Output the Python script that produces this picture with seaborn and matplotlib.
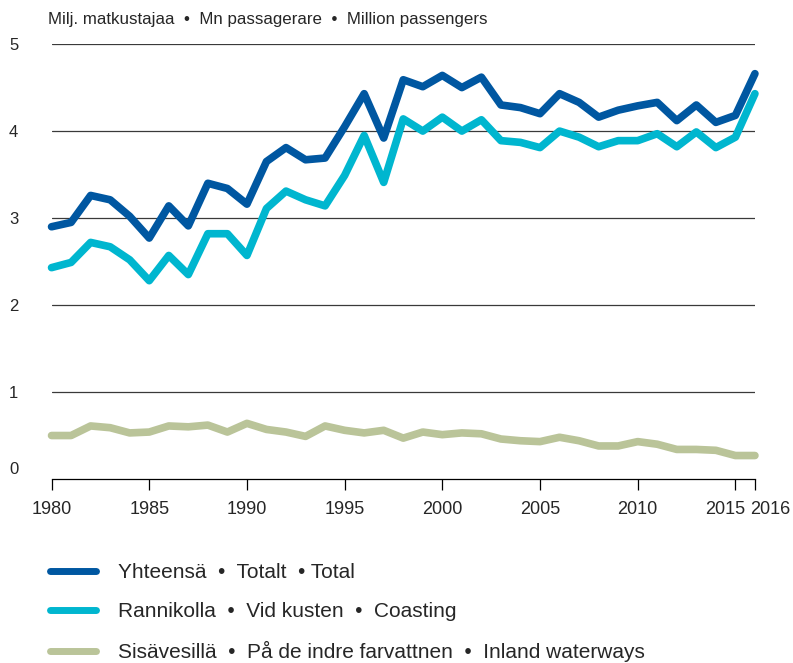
import matplotlib
matplotlib.use("Agg")
import matplotlib.pyplot as plt
import matplotlib.transforms as mtransforms
from matplotlib.lines import Line2D
import pandas as pd
import seaborn as sns

# Data (million passengers)
years = list(range(1980, 2017))
total = [2.90, 2.95, 3.26, 3.21, 3.02, 2.77, 3.14, 2.91, 3.40, 3.34,
         3.16, 3.65, 3.81, 3.67, 3.69, 4.05, 4.43, 3.92, 4.59, 4.51,
         4.64, 4.50, 4.62, 4.30, 4.27, 4.20, 4.43, 4.33, 4.16, 4.24,
         4.29, 4.33, 4.12, 4.30, 4.10, 4.18, 4.66]
coasting = [2.43, 2.49, 2.72, 2.67, 2.52, 2.28, 2.57, 2.35, 2.82, 2.82,
            2.57, 3.11, 3.31, 3.21, 3.14, 3.49, 3.95, 3.41, 4.14, 4.00,
            4.16, 4.00, 4.13, 3.89, 3.87, 3.81, 4.00, 3.93, 3.82, 3.89,
            3.89, 3.97, 3.82, 3.99, 3.81, 3.93, 4.43]
inland = [0.50, 0.50, 0.61, 0.59, 0.53, 0.54, 0.61, 0.60, 0.62, 0.54,
          0.64, 0.57, 0.54, 0.49, 0.61, 0.56, 0.53, 0.56, 0.47, 0.54,
          0.51, 0.53, 0.52, 0.46, 0.44, 0.43, 0.48, 0.44, 0.38, 0.38,
          0.43, 0.40, 0.34, 0.34, 0.33, 0.27, 0.27]

labels = [
    "Yhteensä  •  Totalt  • Total",
    "Rannikolla  •  Vid kusten  •  Coasting",
    "Sisävesillä  •  På de indre farvattnen  •  Inland waterways",
]
colors = ["#0057A1", "#00B6CF", "#BAC499"]
x_ticks = [1980, 1985, 1990, 1995, 2000, 2005, 2010, 2015, 2016]
y_ticks = [0, 1, 2, 3, 4, 5]
title = "Milj. matkustajaa  •  Mn passagerare  •  Million passengers"

df = pd.DataFrame({
    "year": years * 3,
    "value": total + coasting + inland,
    "series": [labels[0]] * len(years) + [labels[1]] * len(years) + [labels[2]] * len(years),
})

sns.set_style("white")
plt.rcParams["font.family"] = ["Liberation Sans", "DejaVu Sans"]

fig = plt.figure(figsize=(7.93, 6.63), dpi=100)
ax = fig.add_axes([0.065, 0.2775, 0.887, 0.656])

sns.lineplot(
    data=df, x="year", y="value", hue="series",
    hue_order=labels[::-1], palette=dict(zip(labels, colors)),
    linewidth=5.5, legend=False, ax=ax,
)
for line in ax.lines:
    line.set_solid_capstyle("round")
    line.set_solid_joinstyle("round")
    line.set_clip_on(False)

ax.set_xlim(1980, 2016)
ax.set_ylim(0, 5)
ax.set_xticks(x_ticks)
ax.set_yticks(y_ticks)
ax.set_xlabel("")
ax.set_ylabel("")

for v in y_ticks[1:]:
    ax.axhline(v, color="#3a3a3a", linewidth=0.9, zorder=0)

sns.despine(ax=ax, left=True, top=True, right=True)
ax.spines["bottom"].set_color("black")
ax.spines["bottom"].set_linewidth(0.9)

ax.tick_params(axis="x", direction="out", length=8, width=0.9, color="black",
               pad=8, labelsize=13, bottom=True)
ax.tick_params(axis="y", length=0, pad=24, labelsize=12)

# small nudges as in the original
def nudge(label, dx, dy):
    label.set_transform(label.get_transform()
                        + mtransforms.ScaledTranslation(dx / 72, dy / 72, fig.dpi_scale_trans))

nudge(ax.get_yticklabels()[0], 0, 8)
xlabs = ax.get_xticklabels()
nudge(xlabs[-2], -7, 0)
nudge(xlabs[-1], 11, 0)

fig.text(0.061, 0.9713, title, fontsize=12.2, ha="left", va="center")

# Legend
handles = [Line2D([0], [0], color=c, linewidth=5, solid_capstyle="round") for c in colors]
fig.legend(handles, labels, loc="upper left", bbox_to_anchor=(0.053, 0.163),
           frameon=False, fontsize=15, handlelength=2.2, handletextpad=1.05,
           labelspacing=0.95, borderaxespad=0)

fig.savefig("out.png", dpi=100)
